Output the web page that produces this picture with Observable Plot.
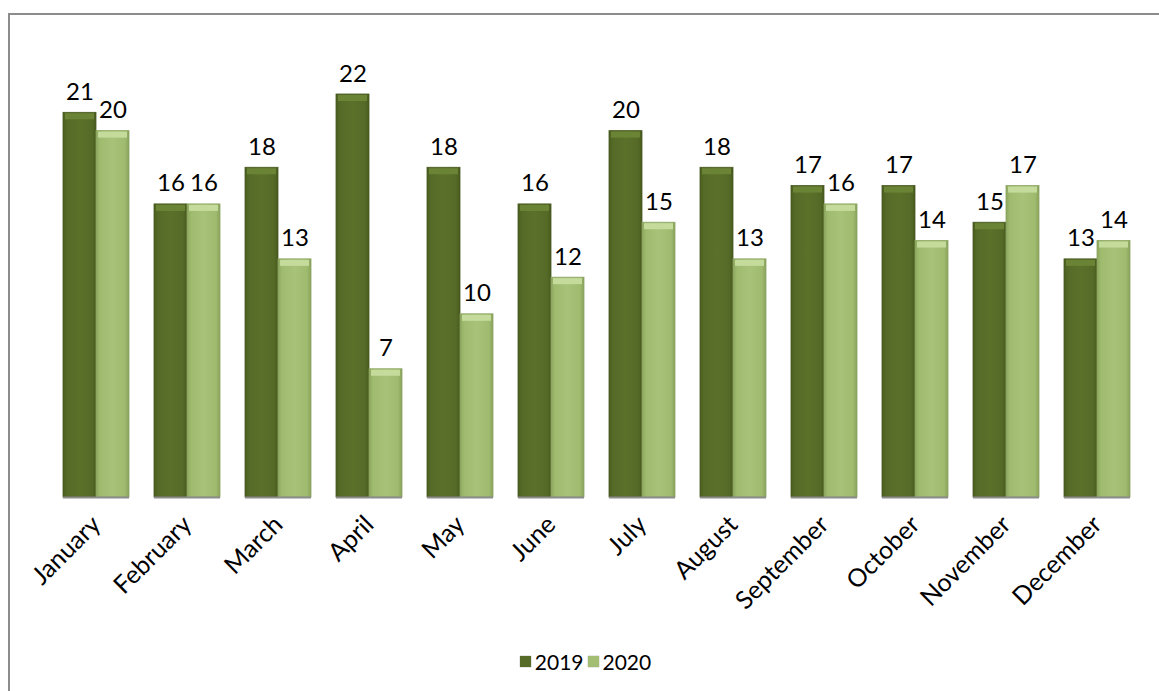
<!DOCTYPE html>
<html>
<head>
<meta charset="utf-8">
<script src="https://cdn.jsdelivr.net/npm/d3@7"></script>
<script src="https://cdn.jsdelivr.net/npm/@observablehq/plot@0.6"></script>
<style>
  html, body { margin: 0; padding: 0; background: #fff; }
  body { width: 1159px; height: 691px; position: relative; overflow: hidden; font-family: Lato, "Open Sans", sans-serif; }
  #frame { position: absolute; left: 8px; top: 13px; width: 1200px; height: 720px; border: 2px solid #8c8c8c; box-sizing: border-box; }
  #chart { position: absolute; left: 0; top: 0; }
  #legend { position: absolute; left: 0; width: 1159px; top: 646px; text-align: center; font-size: 21px; color: #000; padding-left: 6px; }
  #legend span.item { display: inline-flex; align-items: center; margin: 0 2px; }
  #legend span.sw { display: inline-block; width: 11px; height: 11px; margin-right: 4px; box-shadow: 0 0 1px #777; }
</style>
</head>
<body>
<div id="frame"></div>
<div id="chart"></div>
<div id="legend"></div>
<script>
const months = ["January","February","March","April","May","June","July","August","September","October","November","December"];
const years = ["2019","2020"];
const v2019 = [21,16,18,22,18,16,20,18,17,17,15,13];
const v2020 = [20,16,13,7,10,12,15,13,16,14,17,14];
const colors = ["#566b27", "#a3bd72"];

const data = [];
months.forEach((m, i) => {
  data.push({month: m, year: years[0], value: v2019[i]});
  data.push({month: m, year: years[1], value: v2020[i]});
});

const W = 1159, H = 600;
const plot = Plot.plot({
  width: W,
  height: H,
  marginLeft: 48,
  marginRight: 14,
  marginTop: 94,
  marginBottom: 103,
  style: {fontFamily: "Lato, 'Open Sans', sans-serif", fontSize: "24px", color: "#000", background: "transparent", overflow: "visible"},
  fx: {domain: months, paddingInner: 0.28, paddingOuter: 0.14, label: null},
  x: {domain: years, padding: 0, axis: null},
  y: {domain: [0, 22], axis: null},
  color: {domain: years, range: colors},
  marks: [
    Plot.barY(data, {fx: "month", x: "year", y: "value",
      fill: d => d.year === "2019" ? "url(#g2019)" : "url(#g2020)",
      stroke: d => d.year === "2019" ? "#46571e" : "#8aa460", strokeWidth: 0.8}),
    Plot.tickY(data, {fx: "month", x: "year", y: "value", dy: 3.5, inset: 2,
      stroke: d => d.year === "2019" ? "#6c8536" : "#c6dc9e", strokeWidth: 6, strokeOpacity: 0.95}),
    Plot.text(data, {fx: "month", x: "year", y: "value", text: d => String(d.value),
      lineAnchor: "bottom", dy: -13, fontSize: 24, fill: "#000"}),
    Plot.ruleY([0], {stroke: "#8c8c8c", strokeWidth: 2}),
    Plot.axisFx({tickRotate: -45, tickSize: 0, tickPadding: 23, fontSize: 25, label: null, anchor: "bottom"})
  ]
});

// gradient defs
const svgns = "http://www.w3.org/2000/svg";
const defs = document.createElementNS(svgns, "defs");
function grad(id, stops) {
  const g = document.createElementNS(svgns, "linearGradient");
  g.setAttribute("id", id);
  g.setAttribute("x1", "0"); g.setAttribute("x2", "1");
  g.setAttribute("y1", "0"); g.setAttribute("y2", "0");
  stops.forEach(([o, c]) => {
    const s = document.createElementNS(svgns, "stop");
    s.setAttribute("offset", o); s.setAttribute("stop-color", c);
    g.appendChild(s);
  });
  defs.appendChild(g);
}
grad("g2019", [[0, "#4a5d1f"], [0.12, "#556a27"], [0.5, "#5b712a"], [0.88, "#556a27"], [1, "#485a1e"]]);
grad("g2020", [[0, "#8ca75f"], [0.12, "#9fbb6e"], [0.5, "#a8c379"], [0.88, "#9fbb6e"], [1, "#89a25d"]]);
plot.insertBefore(defs, plot.firstChild);

document.getElementById("chart").appendChild(plot);

const legend = document.getElementById("legend");
years.forEach((y, i) => {
  const item = document.createElement("span");
  item.className = "item";
  const sw = document.createElement("span");
  sw.className = "sw";
  sw.style.background = colors[i];
  item.appendChild(sw);
  item.appendChild(document.createTextNode(y));
  legend.appendChild(item);
});
</script>
</body>
</html>
